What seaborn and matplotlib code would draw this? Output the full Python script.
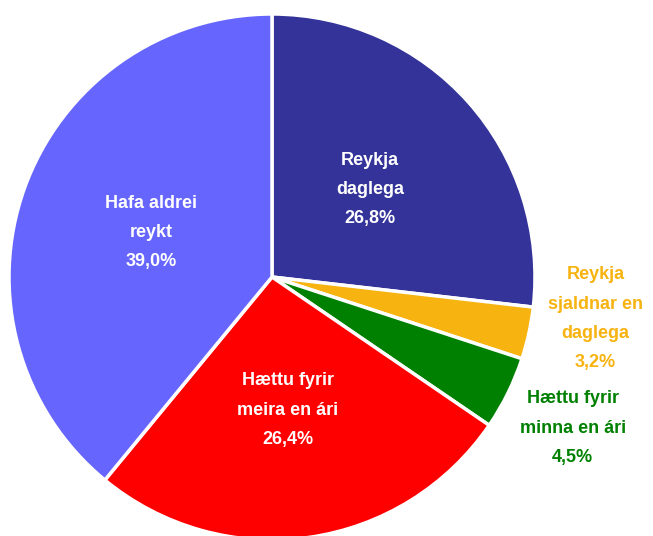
import numpy as np
import matplotlib
matplotlib.use("Agg")
import matplotlib.pyplot as plt
import seaborn as sns

# Data
labels = ["Reykja\ndaglega", "Reykja\nsjaldnar en\ndaglega", "Hættu fyrir\nminna en ári",
          "Hættu fyrir\nmeira en ári", "Hafa aldrei\nreykt"]
values = [26.8, 3.2, 4.5, 26.4, 39.0]
colors = ["#333399", "#F7B30F", "#008000", "#FF0000", "#6666FF"]
text_colors = ["white", "#F7B30F", "#008000", "white", "white"]

sns.set_style("white")
plt.rcParams["font.family"] = ["Liberation Sans", "DejaVu Sans"]

fig = plt.figure(figsize=(6.53, 5.36), dpi=100)
W, H = 653, 536
cx, cy, r = 272, 277, 263
ax = fig.add_axes([(cx - r) / W, (H - cy - r) / H, 2 * r / W, 2 * r / H])

wedges, _ = ax.pie(values, colors=colors, startangle=90, counterclock=False,
                   wedgeprops=dict(edgecolor="white", linewidth=2.5))
ax.set_xlim(-1, 1)
ax.set_ylim(-1, 1)
ax.set_aspect("equal")
ax.axis("off")

# label radius and angle nudge per slice
lab_r = [0.50, 1.24, 1.28, 0.51, 0.49]
lab_da = [0, 5, -0.5, -1.3, -0.5]
for w, lab, v, tc, rr, da in zip(wedges, labels, values, text_colors, lab_r, lab_da):
    ang = np.deg2rad((w.theta1 + w.theta2) / 2 + da)
    txt = lab + "\n" + f"{v:.1f}%".replace(".", ",")
    ax.text(rr * np.cos(ang), rr * np.sin(ang), txt, color=tc, ha="center", va="center",
            fontsize=13, fontweight="bold", linespacing=1.95, clip_on=False)

fig.savefig("out.png", dpi=100)
